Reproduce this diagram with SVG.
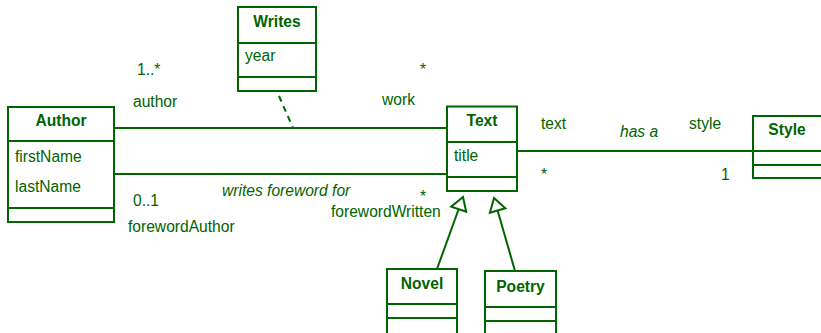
<svg xmlns="http://www.w3.org/2000/svg" width="821" height="333" viewBox="0 0 821 333">
<style>
  text { font-family: "Liberation Sans", Arial, sans-serif; font-size: 15.6px; fill: #006400; }
  .title { font-weight: bold; text-anchor: middle; }
  .it { font-style: italic; }
  .box { fill: #ffffff; stroke: #006400; stroke-width: 2; }
  .sep { stroke: #006400; stroke-width: 2; fill: none; }
  .conn { stroke: #006400; stroke-width: 2; fill: none; }
  .dash { stroke-dasharray: 6 5; }
  .tri { fill: #ffffff; stroke: #006400; stroke-width: 2; stroke-linejoin: miter; }
</style>
<rect width="821" height="333" fill="#ffffff"/>
<g id="connectors">
  <line class="conn" x1="114" y1="128" x2="447" y2="128"/>
  <line class="conn" x1="114" y1="174" x2="447" y2="174"/>
  <line class="conn" x1="517" y1="151" x2="753" y2="151"/>
  <line class="conn dash" x1="279" y1="96" x2="293" y2="128"/>
  <line class="conn" x1="437" y1="269" x2="458.7" y2="209"/>
  <polygon class="tri" points="463,197 466.2,211.8 451.2,206.6"/>
  <line class="conn" x1="515" y1="271" x2="497.6" y2="210.5"/>
  <polygon class="tri" points="494,198 505.3,208.3 489.9,212.7"/>
  <text x="137" y="75">1..*</text>
  <text x="133" y="106.5">author</text>
  <text x="420" y="75">*</text>
  <text x="382" y="105">work</text>
  <text x="133" y="206">0..1</text>
  <text x="128" y="232">forewordAuthor</text>
  <text class="it" x="222" y="195.5">writes foreword for</text>
  <text x="420" y="201.5">*</text>
  <text x="331" y="217">forewordWritten</text>
  <text x="541" y="129">text</text>
  <text class="it" x="620" y="136.5">has a</text>
  <text x="689" y="128.5">style</text>
  <text x="541" y="179.5">*</text>
  <text x="721" y="180">1</text>
</g>
<g id="Author">
  <rect class="box" x="8" y="107" width="106" height="115"/>
  <line class="sep" x1="8" y1="141" x2="114" y2="141"/>
  <line class="sep" x1="8" y1="208" x2="114" y2="208"/>
  <text class="title" x="61" y="126">Author</text>
  <text x="15" y="161.5">firstName</text>
  <text x="15" y="191.5">lastName</text>
</g>
<g id="Writes">
  <rect class="box" x="238" y="7" width="78" height="84"/>
  <line class="sep" x1="238" y1="43" x2="316" y2="43"/>
  <line class="sep" x1="238" y1="77" x2="316" y2="77"/>
  <text class="title" x="277" y="27">Writes</text>
  <text x="245" y="61">year</text>
</g>
<g id="Text">
  <rect class="box" x="447" y="106.5" width="70" height="84.5"/>
  <line class="sep" x1="447" y1="142" x2="517" y2="142"/>
  <line class="sep" x1="447" y1="177" x2="517" y2="177"/>
  <text class="title" x="482" y="126">Text</text>
  <text x="454" y="161">title</text>
</g>
<g id="Style">
  <rect class="box" x="753" y="116" width="70" height="62"/>
  <line class="sep" x1="753" y1="151" x2="823" y2="151"/>
  <line class="sep" x1="753" y1="165" x2="823" y2="165"/>
  <text class="title" x="787" y="135">Style</text>
</g>
<g id="Novel">
  <rect class="box" x="387" y="269" width="70" height="80"/>
  <line class="sep" x1="387" y1="304" x2="457" y2="304"/>
  <line class="sep" x1="387" y1="318" x2="457" y2="318"/>
  <text class="title" x="422" y="289">Novel</text>
</g>
<g id="Poetry">
  <rect class="box" x="485" y="271" width="71" height="80"/>
  <line class="sep" x1="485" y1="307" x2="556" y2="307"/>
  <line class="sep" x1="485" y1="321" x2="556" y2="321"/>
  <text class="title" x="520.5" y="291.5">Poetry</text>
</g>
</svg>
